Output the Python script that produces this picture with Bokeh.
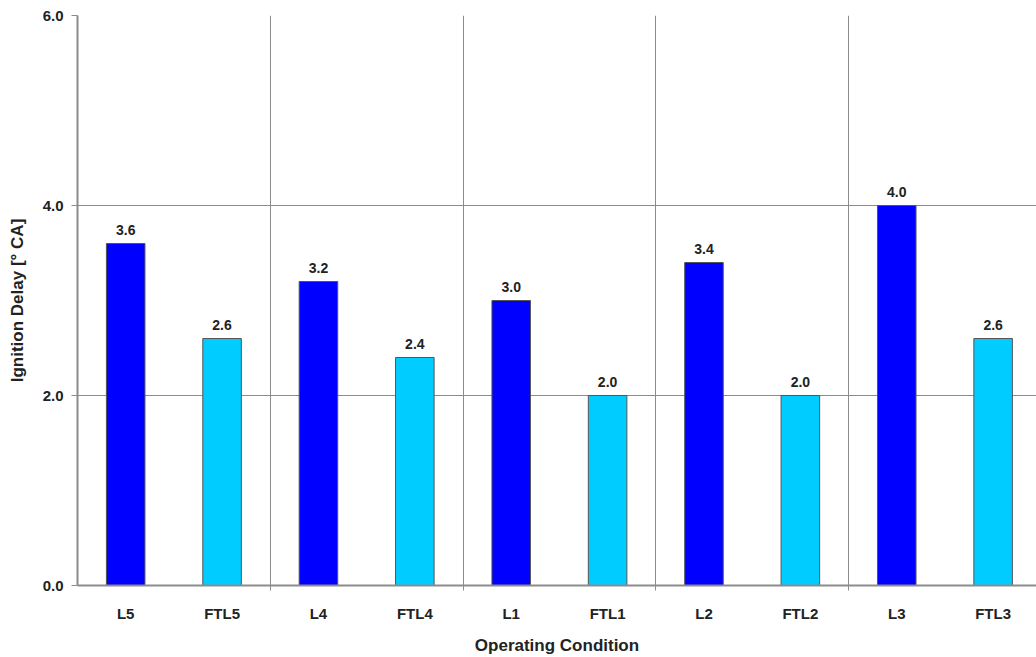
from bokeh.plotting import figure
from bokeh.models import FixedTicker, Range1d, ColumnDataSource, LabelSet
from bokeh.core.properties import value
from bokeh.embed import file_html
from bokeh.resources import INLINE

# Ignition delay per operating condition (L = baseline, FTL = fuel variant)
conditions = ["L5", "FTL5", "L4", "FTL4", "L1", "FTL1", "L2", "FTL2", "L3", "FTL3"]
delays = [3.6, 2.6, 3.2, 2.4, 3.0, 2.0, 3.4, 2.0, 4.0, 2.6]
y_ticks = [0.0, 2.0, 4.0, 6.0]

FONT = "Liberation Sans"
TEXT = "#222222"
GRID = "#8c8c8c"

xpos = [i + 0.5 for i in range(len(conditions))]
fill = ["#00CCFF" if c.startswith("FTL") else "#0000FF" for c in conditions]
source = ColumnDataSource(dict(
    x=xpos, top=delays, cond=conditions, fill=fill,
    label=[f"{v:.1f}" for v in delays],
))

p = figure(width=1036, height=657, x_range=Range1d(0, 9.95), y_range=Range1d(0, 6),
           output_backend="svg", toolbar_location=None,
           min_border_left=77, min_border_right=0, min_border_top=15, min_border_bottom=70)
p.outline_line_color = None
p.background_fill_color = "white"

p.vbar(x="x", top="top", bottom=0, width=0.4, fill_color="fill",
       line_color="#555555", line_width=1, source=source)

labels = LabelSet(x="x", y="top", text="label", source=source, text_align="center",
                  text_baseline="bottom", y_offset=9, text_font=value(FONT),
                  text_font_style="bold", text_font_size="14px", text_color=TEXT)
p.add_layout(labels)

# x axis: category names at bar centres, small ticks at group boundaries
xt = FixedTicker(ticks=xpos, minor_ticks=[2, 4, 6, 8])
p.xaxis.ticker = xt
p.xaxis.major_label_overrides = {x: c for x, c in zip(xpos, conditions)}
p.xaxis.major_tick_out = 0
p.xaxis.major_tick_in = 0
p.xaxis.minor_tick_out = 5
p.xaxis.minor_tick_in = 0
p.xaxis.minor_tick_line_color = GRID
p.xaxis.axis_line_color = GRID
p.xaxis.axis_line_width = 2
p.xaxis.major_label_standoff = 14
p.xaxis.axis_label = "Operating Condition"
p.xaxis.axis_label_standoff = 11

p.xgrid.grid_line_color = None
p.xgrid.minor_grid_line_color = GRID
p.xgrid.minor_grid_line_width = 1

p.yaxis.ticker = FixedTicker(ticks=y_ticks, minor_ticks=[])
p.yaxis.major_label_overrides = {t: f"{t:.1f}" for t in y_ticks}
p.yaxis.major_tick_out = 6
p.yaxis.major_tick_in = 0
p.yaxis.major_tick_line_color = GRID
p.yaxis.axis_line_color = GRID
p.yaxis.axis_line_width = 2
p.yaxis.major_label_standoff = 8
p.yaxis.axis_label = "Ignition Delay [° CA]"
p.yaxis.axis_label_standoff = 13

p.ygrid.grid_line_color = GRID
p.ygrid.grid_line_width = 1

for ax in (p.xaxis, p.yaxis):
    ax.major_label_text_font = FONT
    ax.major_label_text_font_style = "bold"
    ax.major_label_text_font_size = "15px"
    ax.major_label_text_color = TEXT
    ax.axis_label_text_font = FONT
    ax.axis_label_text_font_style = "bold"
    ax.axis_label_text_font_size = "17px"
    ax.axis_label_text_color = TEXT

open("out.html", "w").write(file_html(p, INLINE))
